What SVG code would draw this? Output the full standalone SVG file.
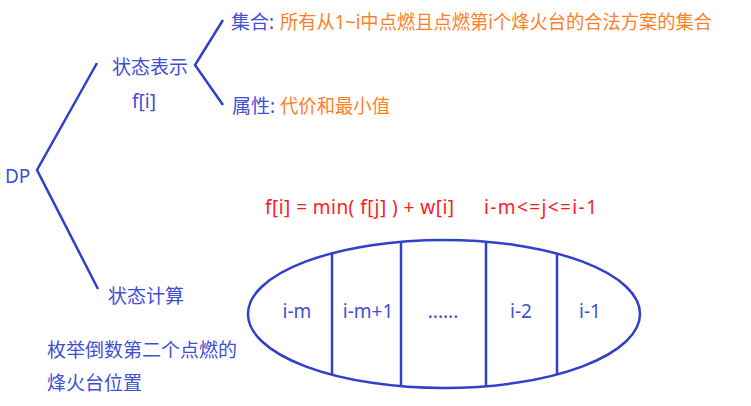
<svg xmlns="http://www.w3.org/2000/svg" width="751" height="406" viewBox="0 0 751 406">
<style>
text{font-family:"Noto Sans","Noto Sans CJK SC",sans-serif;font-size:19px}
.b{fill:#3f4fd6}
.o{fill:#ff7f27}
.r{fill:#ff1a1a}
.ln{stroke:#3040c8;stroke-width:2.5;fill:none}
.mid{text-anchor:middle}
</style>
<rect width="751" height="406" fill="#fff"/>
<g id="connectors">
<polyline class="ln" points="97,63 37,170 98,289"/>
<polyline class="ln" points="223,20 195,65 223,105"/>
</g>
<g id="dp"><text class="b" x="5" y="183">DP</text></g>
<g id="state-rep"><text class="b" x="112" y="74">状态表示</text><text class="b" x="132" y="108">f[i]</text></g>
<g id="set"><text class="b" x="231" y="29">集合:</text><text class="o" x="280" y="29" textLength="432" lengthAdjust="spacingAndGlyphs">所有从1~i中点燃且点燃第i个烽火台的合法方案的集合</text></g>
<g id="attr"><text class="b" x="232" y="113">属性:</text><text class="o" x="280" y="113" textLength="110" lengthAdjust="spacingAndGlyphs">代价和最小值</text></g>
<g id="formula"><text class="r" x="265" y="214" textLength="189" xml:space="preserve">f[i] = min( f[j] ) + w[i]</text><text class="r" x="484" y="214" textLength="113">i-m&lt;=j&lt;=i-1</text></g>
<g id="state-calc"><text class="b" x="108" y="303">状态计算</text></g>
<g id="note"><text class="b" x="47" y="357">枚举倒数第二个点燃的</text><text class="b" x="47" y="390">烽火台位置</text></g>
<g id="ellipse">
<ellipse class="ln" cx="444" cy="314" rx="196" ry="74"/>
<line class="ln" x1="332" y1="253.3" x2="332" y2="374.7"/>
<line class="ln" x1="401" y1="241.8" x2="401" y2="386.2"/>
<line class="ln" x1="486" y1="241.8" x2="486" y2="386.2"/>
<line class="ln" x1="557" y1="253.5" x2="557" y2="374.5"/>
<text class="b mid" x="297" y="318">i-m</text>
<text class="b mid" x="368" y="318">i-m+1</text>
<text class="b mid" x="443" y="318">......</text>
<text class="b mid" x="521" y="318">i-2</text>
<text class="b mid" x="590" y="318">i-1</text>
</g>
</svg>
